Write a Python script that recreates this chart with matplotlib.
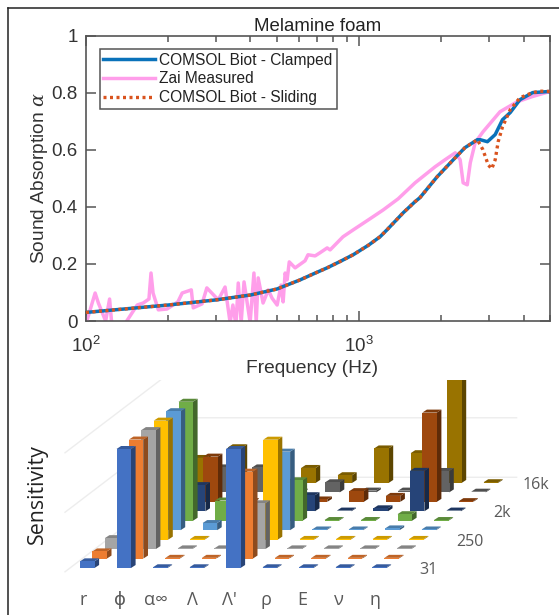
import matplotlib
matplotlib.use("Agg")
import matplotlib.pyplot as plt
import numpy as np
from matplotlib.lines import Line2D
from matplotlib.patches import Polygon
from matplotlib.ticker import FixedLocator, FixedFormatter, LogLocator, NullFormatter
from matplotlib.colors import to_rgb

plt.rcParams['font.family'] = ['Liberation Sans', 'DejaVu Sans']
plt.rcParams['mathtext.fontset'] = 'custom'
plt.rcParams['mathtext.rm'] = 'Liberation Sans'
plt.rcParams['mathtext.it'] = 'DejaVu Serif:italic'
plt.rcParams['mathtext.default'] = 'regular'

# ---- top chart data
title = "Melamine foam"
clamped_f = [100, 200, 300, 400, 500, 608, 680, 763, 850, 951, 1080, 1193, 1264, 1450, 1603, 1670, 1930, 2249, 2440, 2710,
             2777, 2950, 3150, 3350, 3575, 3880, 4320, 5000]
clamped_a = [.030, .056, .074, .091, .112, .144, .165, .186, .208, .232, .265, .295, .319, .379, .418, .432, .505, .572, .607, .635,
             .635, .628, .653, .705, .730, .775, .800, .804]
sliding_f = [100, 200, 300, 400, 500, 608, 680, 763, 850, 951, 1080, 1193, 1264, 1450, 1603, 1670, 1930, 2249, 2440, 2710,
             2840, 2970, 3060, 3150, 3230, 3350, 3575, 3880, 4320, 4600, 5000]
sliding_a = [.030, .056, .074, .091, .112, .144, .165, .186, .208, .232, .265, .295, .319, .379, .418, .432, .505, .572, .607, .635,
             .600, .547, .533, .565, .628, .680, .740, .782, .800, .805, .804]
measured_f = [101, 108, 111, 118, 122, 124, 133, 141, 154, 162, 170, 173, 176, 184, 198, 217, 225, 243, 247,
              266, 277, 305, 323, 337, 345, 354, 361, 370, 379, 399, 412, 420, 427, 445, 465, 480, 501, 518,
              527, 536, 545, 555, 583, 634, 650, 690, 719, 764, 783, 873, 951, 1096, 1225, 1390, 1603, 1897,
              2065, 2249, 2344, 2404, 2489, 2553, 2661, 2844, 3281, 3793, 4305, 5000]
measured_a = [.004, .098, .063, 0, .077, 0, -.05, 0, .056, .063, .077, .168, .098, .039, .042, .067, .098, .109,
              .046, .060, .116, .074, .119, -.005, .056, -.014, .133, -.005, .137, -.005, .168, -.005, .151,
              .063, .109, .080, .056, .126, .067, .168, .144, .207, .186, .211, .232, .228, .239, .256, .249,
              .295, .319, .358, .389, .428, .484, .540, .565, .589, .565, .484, .477, .554, .625, .663, .733,
              .768, .786, .804]
y_ticks = [0, .2, .4, .6, .8, 1]
y_ticklabels = ['0', '0.2', '0.4', '0.6', '0.8', '1']

# ---- bottom chart data
params = ['r', 'ϕ', 'α∞', 'Λ', "Λ'", 'ρ', 'E', 'ν', 'η']
freq_labels = {0: '31', 3: '250', 6: '2k', 9: '16k'}
freq_label_dx = {0: 56, 3: 61, 6: 56, 9: 52}
series_colors = ['#4472C4', '#ED7D31', '#A5A5A5', '#FFC000', '#5B9BD5',
                 '#70AD47', '#264478', '#9E480E', '#636363', '#997300']
r0 = [.056, 1, 0, 0, 1, 0, 0, 0, 0]
r1 = [.06, 1, 0, 0, .73, 0, 0, 0, 0]
r2 = [.092, 1, 0, 0, .385, 0, 0, 0, 0]
r3 = [0, 1, 0, 0, .84, 0, 0, 0, 0]
r4 = [0, 1, .06, 0, .66, 0, 0, .015, 0]
r5 = [0, 1, .17, 0, .34, 0, 0, .055, 0]
r6 = [0, .22, 0, 0, .135, 0, .025, .34, 0]
r7 = [0, .38, 0, 0, .02, .09, .05, .75, 0]
r8 = [0, .21, .21, 0, .085, .015, .015, .18, 0]
r9 = [.21, .30, 0, .126, .065, .29, .25, .95, 0]
sensitivity = [r0, r1, r2, r3, r4, r5, r6, r7, r8, r9]

W, H = 559, 615
fig = plt.figure(figsize=(W / 100, H / 100), dpi=100, facecolor='white')


def rect(l, t, r, b):
    return [l / W, 1 - b / H, (r - l) / W, (b - t) / H]


# ---------- top chart
ax = fig.add_axes(rect(86, 35.5, 550, 321))
c_blue, c_pink, c_orange = '#0A72BA', '#FF9EEA', '#D9531E'
l2, = ax.plot(measured_f, measured_a, color=c_pink, lw=2.5, zorder=2, solid_joinstyle='round', label='Zai Measured')
l1, = ax.plot(clamped_f, clamped_a, color=c_blue, lw=2.5, zorder=3, label='COMSOL Biot - Clamped')
l3, = ax.plot(sliding_f, sliding_a, color=c_orange, lw=2.4, zorder=4, linestyle=(0, (0.9, 1.05)),
              label='COMSOL Biot - Sliding')
ax.set_xscale('log')
ax.set_xlim(100, 5000)
ax.set_ylim(0, 1)
axc = '#555555'
txt = '#333333'
for s in ax.spines.values():
    s.set_color(axc)
    s.set_linewidth(1.2)
ax.xaxis.set_major_locator(FixedLocator([100, 1000]))
ax.xaxis.set_major_formatter(FixedFormatter(['$10^{2}$', '$10^{3}$']))
ax.xaxis.set_minor_locator(LogLocator(base=10, subs=range(2, 10), numticks=12))
ax.xaxis.set_minor_formatter(NullFormatter())
ax.set_yticks(y_ticks)
ax.set_yticklabels(y_ticklabels)
ax.tick_params(which='major', direction='in', length=7.2, width=1.1, color=axc, top=True, right=True,
               labelsize=13.5, labelcolor=txt)
ax.tick_params(which='minor', direction='in', length=4, width=1.1, color=axc, top=True, right=False)
ax.tick_params(axis='y', pad=6)
ax.tick_params(axis='x', pad=11)
ax.set_title(title, fontsize=13.4, color='#222222', pad=3)
ax.set_xlabel('Frequency (Hz)', fontsize=13.8, color=txt, labelpad=0)
ax.set_ylabel(r'Sound Absorption $\mathit{\alpha}$', fontsize=13.8, color=txt, labelpad=8)
ax.xaxis.set_label_coords((312 - 86) / 464, -(360 - 321) / 285.5)
ax.yaxis.set_label_coords((50 - 86) / 464, 0.5)
leg = ax.legend(handles=[l1, l2, l3], loc='upper left', bbox_to_anchor=((99.5 - 86) / 464, 1 - (49 - 35.5) / 285.5),
                borderaxespad=0, frameon=True, fancybox=False, framealpha=1, edgecolor=axc,
                handlelength=3.3, handletextpad=0.3, labelspacing=0.23, borderpad=0.25,
                prop={'size': 11.2}, labelcolor='#222222')
leg.get_frame().set_linewidth(1.1)
leg.set_zorder(10)

# ---------- bottom chart: oblique projection of a 3-D column chart
TOP_CLIP, BOTTOM = 380, 615
bx = fig.add_axes(rect(0, TOP_CLIP, W, BOTTOM))
bx.set_xlim(0, W)
bx.set_ylim(BOTTOM, TOP_CLIP)
bx.axis('off')
bx.patch.set_alpha(0)
ORIGIN = (80.0, 568.0)
COL_DX, ROW_DX, ROW_DY, UNIT = 36.5, 12.4, 9.45, 119.0
BW, SDX, SDY = 14.5, 4.6, 3.0


def proj(col, row, val=0.0):
    return ORIGIN[0] + COL_DX * col + ROW_DX * row, ORIGIN[1] - ROW_DY * row - UNIT * val


def shade(c, f):
    return tuple(v * f for v in to_rgb(c))


grid_c = '#EDEDED'
for v in (0, .5, 1):
    pts = [proj(-.275, -.4, v), proj(-.275, 9.6, v), proj(8.7, 9.6, v)]
    bx.plot([p[0] for p in pts], [p[1] for p in pts], color=grid_c, lw=1.0, zorder=1)

FLAT = 0.006
z = 2
for row in range(len(sensitivity) - 1, -1, -1):
    c = series_colors[row]
    for col, val in enumerate(sensitivity[row]):
        h = max(val, FLAT)
        x0, y0 = proj(col, row)
        y1 = y0 - UNIT * h
        x1 = x0 + BW
        bx.add_patch(Polygon([(x1, y0), (x1 + SDX, y0 - SDY), (x1 + SDX, y1 - SDY), (x1, y1)],
                             closed=True, fc=shade(c, .6), ec='none', zorder=z))
        bx.add_patch(Polygon([(x0, y1), (x1, y1), (x1 + SDX, y1 - SDY), (x0 + SDX, y1 - SDY)],
                             closed=True, fc=shade(c, .8), ec='none', zorder=z))
        bx.add_patch(Polygon([(x0, y0), (x1, y0), (x1, y1), (x0, y1)],
                             closed=True, fc=c, ec='none', zorder=z))
    z += 1

lab_c = '#595959'
lab_font = ['Open Sans', 'DejaVu Sans']
for col, name in enumerate(params):
    x, y = proj(col, 0)
    bx.text(x + 3, 600, name, ha='center', va='center', fontsize=13, color=lab_c, family=lab_font)
for row, name in freq_labels.items():
    x, y = proj(8, row)
    bx.text(x + freq_label_dx[row], y + 2, name, ha='center', va='center', fontsize=11.5, color=lab_c, family=lab_font)
bx.text(37, 494, 'Sensitivity', rotation=90, ha='center', va='center', fontsize=15.4,
        color='#222222', family=lab_font)

# ---------- outer frame
fig.add_artist(Line2D([8 / W, 8 / W], [0, 1 - 7.5 / H], color='#222222', lw=1.1))
fig.add_artist(Line2D([8 / W, 1], [1 - 7.5 / H, 1 - 7.5 / H], color='#222222', lw=1.1))

fig.savefig('out.png', dpi=100)
